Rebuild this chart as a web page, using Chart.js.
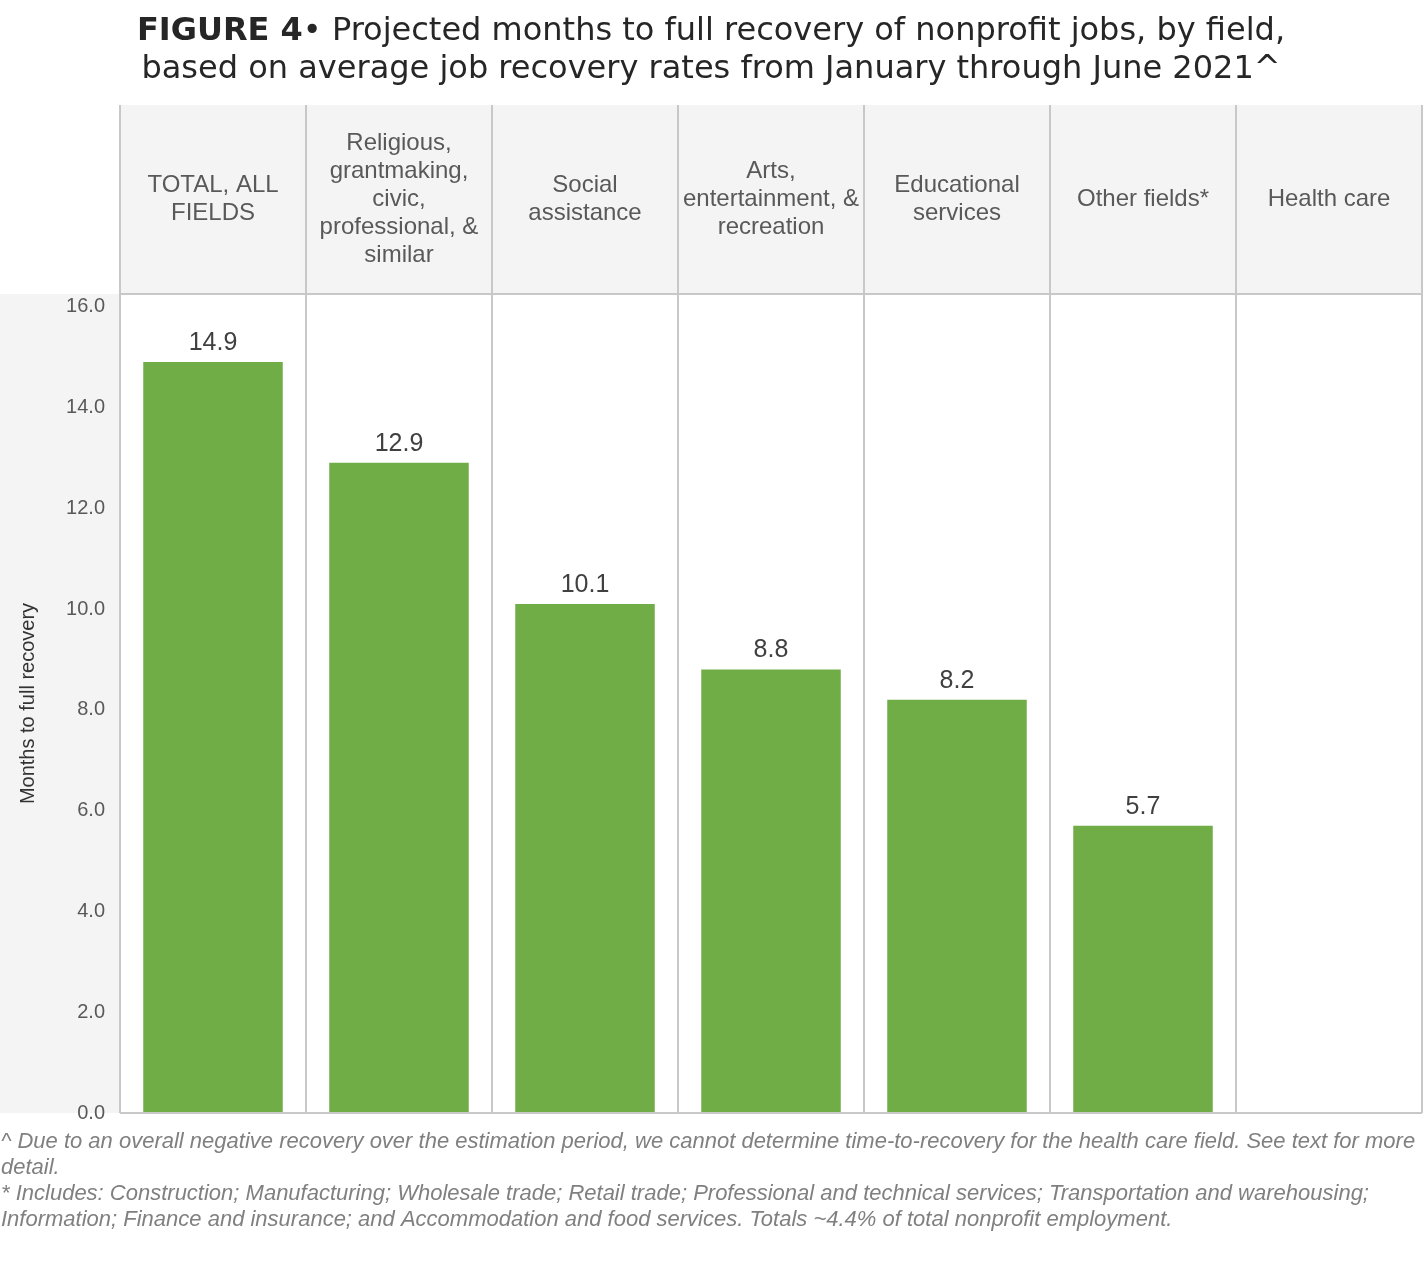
<!DOCTYPE html>
<html>
<head>
<meta charset="utf-8">
<script src="https://cdn.jsdelivr.net/npm/chart.js@4"></script>
<style>
    html, body { margin: 0; padding: 0; background: #fff; }
    #wrap { width: 1426px; height: 1266px; }
</style>
</head>
<body>
<div id="wrap"><canvas id="chart"></canvas></div>
<script>
// categories, header text split into lines as in the figure
const fields = [
    ['TOTAL, ALL', 'FIELDS'],
    ['Religious,', 'grantmaking,', 'civic,', 'professional, &', 'similar'],
    ['Social', 'assistance'],
    ['Arts,', 'entertainment, &', 'recreation'],
    ['Educational', 'services'],
    ['Other fields*'],
    ['Health care']
];
const monthsToRecovery = [14.9, 12.9, 10.1, 8.8, 8.2, 5.7, null];
const yTicks = [0, 2, 4, 6, 8, 10, 12, 14, 16];

const titleBold = 'FIGURE 4';
const titleRest = '\u2022 Projected months to full recovery of nonprofit jobs, by field,';
const titleLine2 = 'based on average job recovery rates from January through June 2021^';
const footnotes = [
    '^ Due to an overall negative recovery over the estimation period, we cannot determine time-to-recovery for the health care field. See text for more',
    'detail.',
    '* Includes: Construction; Manufacturing; Wholesale trade; Retail trade; Professional and technical services; Transportation and warehousing;',
    'Information; Finance and insurance; and Accommodation and food services. Totals ~4.4% of total nonprofit employment.'
];

const GRID = '#c8c8c8';
const PANEL = '#f4f4f4';
const SANS = '"Liberation Sans", Arial, sans-serif';

// grey panels behind the header row and the y axis
const panels = {
    id: 'panels',
    beforeDraw(chart) {
        const { ctx, chartArea: a } = chart;
        const x = chart.scales.x;
        ctx.save();
        ctx.fillStyle = PANEL;
        ctx.fillRect(a.left, x.top, a.right - a.left, a.top - x.top);
        ctx.fillRect(0, a.top, a.left, a.bottom - a.top);
        ctx.restore();
    }
};

// header labels, title, footnotes, bottom rule
const decorations = {
    id: 'decorations',
    afterDraw(chart) {
        const { ctx, chartArea: a } = chart;
        const x = chart.scales.x;
        ctx.save();

        ctx.fillStyle = '#595959';
        ctx.font = '24px ' + SANS;
        ctx.textAlign = 'center';
        ctx.textBaseline = 'middle';
        const midY = (x.top + a.top) / 2;
        fields.forEach((lines, i) => {
            const cx = x.getPixelForValue(i);
            const y0 = midY - (lines.length - 1) * 14;
            lines.forEach((l, j) => ctx.fillText(l, cx, y0 + j * 28));
        });

        ctx.strokeStyle = GRID;
        ctx.lineWidth = 2;
        ctx.beginPath();
        ctx.moveTo(a.left, a.bottom);
        ctx.lineTo(a.right, a.bottom);
        ctx.stroke();

        const tf = '32px "DejaVu Sans", sans-serif';
        ctx.fillStyle = '#262626';
        ctx.textAlign = 'left';
        ctx.font = 'bold ' + tf;
        const wb = ctx.measureText(titleBold).width;
        ctx.font = tf;
        const wr = ctx.measureText(titleRest).width;
        let tx = 711 - (wb + wr) / 2;
        ctx.font = 'bold ' + tf;
        ctx.fillText(titleBold, tx, 32);
        ctx.font = tf;
        ctx.fillText(titleRest, tx + wb, 32);
        ctx.textAlign = 'center';
        ctx.fillText(titleLine2, 711, 70);

        ctx.fillStyle = '#808080';
        ctx.font = 'italic 22px ' + SANS;
        ctx.textAlign = 'left';
        footnotes.forEach((t, i) => ctx.fillText(t, 1, 1142 + i * 26));

        ctx.restore();
    }
};

const barValues = {
    id: 'barValues',
    afterDatasetsDraw(chart) {
        const { ctx } = chart;
        const meta = chart.getDatasetMeta(0);
        ctx.save();
        ctx.fillStyle = '#404040';
        ctx.font = '25px ' + SANS;
        ctx.textAlign = 'center';
        ctx.textBaseline = 'middle';
        meta.data.forEach((bar, i) => {
            const v = monthsToRecovery[i];
            if (v == null) return;
            ctx.fillText(v.toFixed(1), bar.x, bar.y - 19);
        });
        ctx.restore();
    }
};

new Chart(document.getElementById('chart'), {
    type: 'bar',
    data: {
        labels: fields.map(f => f.join(' ')),
        datasets: [{
            data: monthsToRecovery,
            backgroundColor: '#70AD47',
            barPercentage: 0.75,
            categoryPercentage: 1
        }]
    },
    options: {
        responsive: true,
        maintainAspectRatio: false,
        animation: false,
        layout: { padding: { top: 105, left: 0, right: 4, bottom: 153 } },
        plugins: { legend: { display: false }, tooltip: { enabled: false } },
        scales: {
            x: {
                position: 'top',
                offset: true,
                ticks: { display: false },
                grid: { offset: true, color: GRID, lineWidth: 2, drawTicks: true, tickLength: 189, tickColor: GRID },
                border: { display: true, color: GRID, width: 2 },
                afterFit: s => { s.height = 189; }
            },
            y: {
                min: 0,
                max: 16.25,
                afterBuildTicks: s => { s.ticks = yTicks.map(v => ({ value: v })); },
                grid: { display: false },
                border: { display: false },
                ticks: {
                    padding: 7,
                    color: '#595959',
                    font: { family: SANS, size: 20 },
                    callback: v => Number(v).toFixed(1)
                },
                title: {
                    display: true,
                    text: 'Months to full recovery',
                    color: '#333333',
                    font: { family: SANS, size: 20 },
                    padding: { top: 16 }
                },
                afterFit: s => { s.width = 120; }
            }
        }
    },
    plugins: [panels, barValues, decorations]
});
</script>
</body>
</html>
